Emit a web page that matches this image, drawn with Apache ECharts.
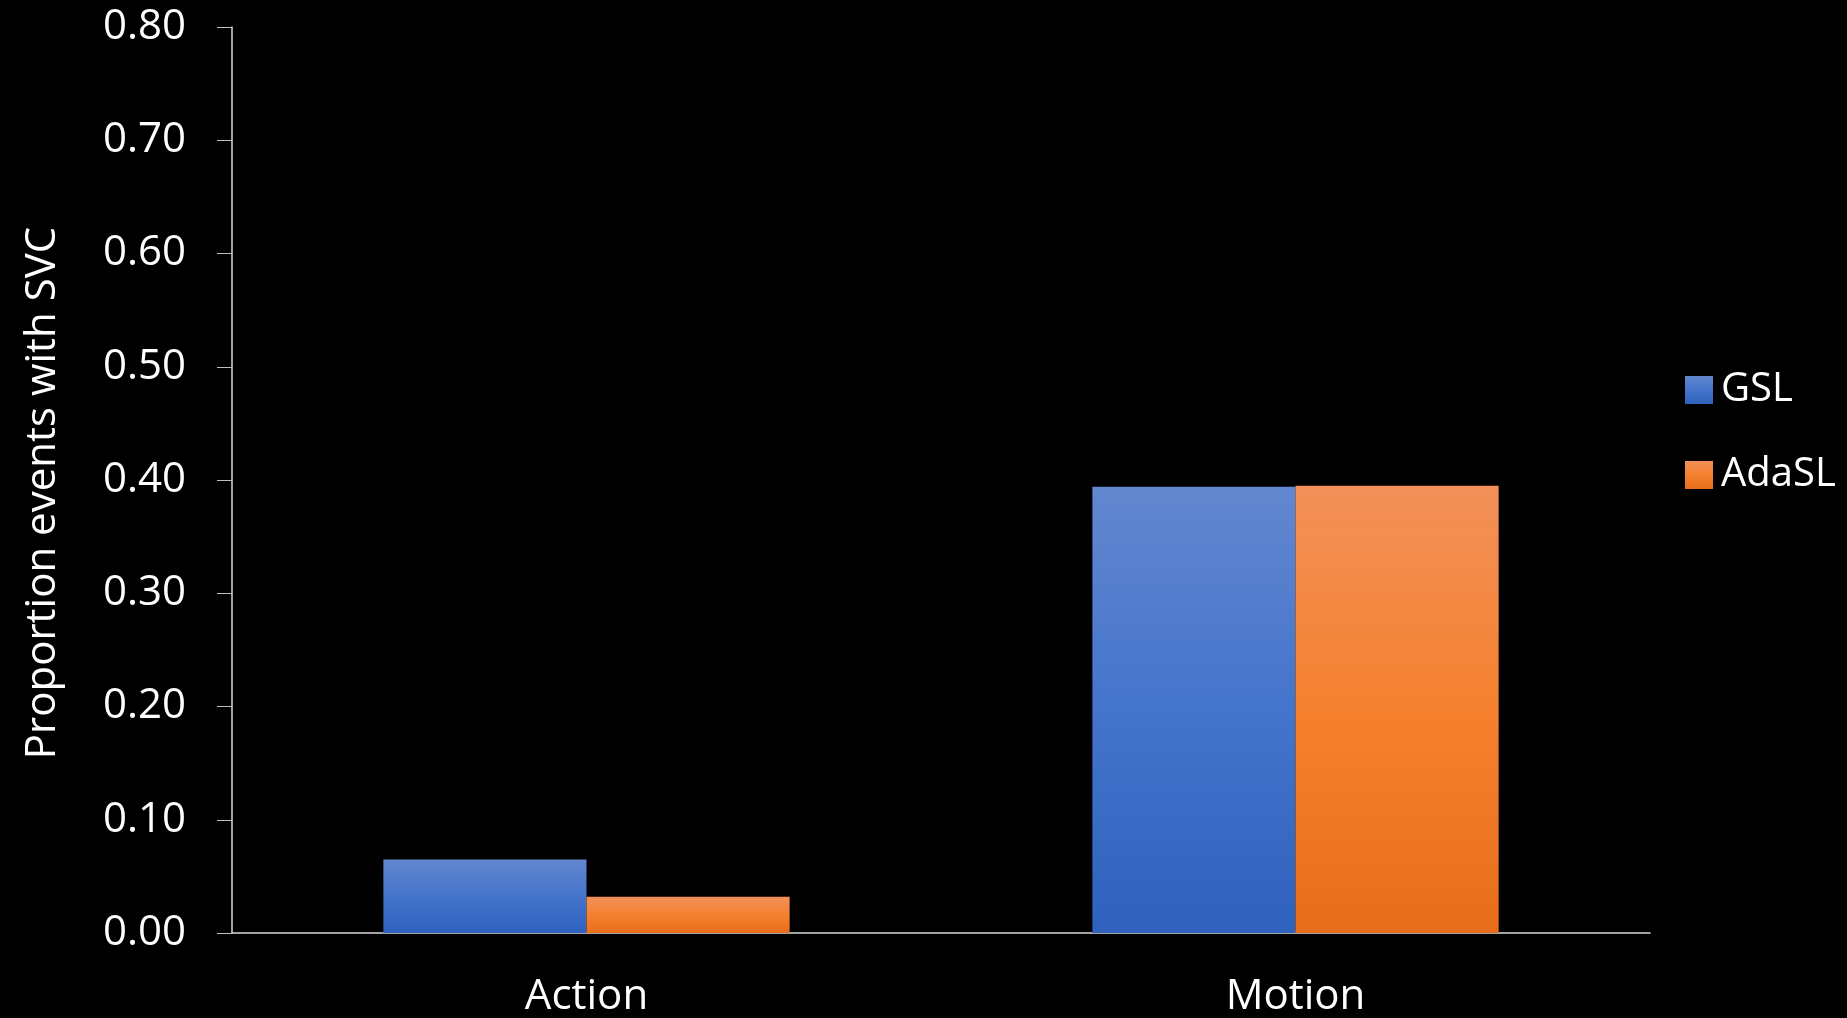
<!DOCTYPE html>
<html>
<head>
<meta charset="utf-8">
<script src="https://cdn.jsdelivr.net/npm/echarts@6/dist/echarts.min.js"></script>
<style>
	html, body { margin: 0; padding: 0; background: #000; }
	#chart { width: 1847px; height: 1018px; }
</style>
</head>
<body>
<div id="chart"></div>
<script>
const categories = ['Action', 'Motion']
const gslValues = [0.065, 0.394]
const adaslValues = [0.032, 0.395]
const yTicks = [0, 0.8, 0.1]

const font = '"Open Sans", "DejaVu Sans", sans-serif'

function grad(top, mid, bottom) {
	return new echarts.graphic.LinearGradient(0, 0, 0, 1, [
		{ offset: 0, color: top },
		{ offset: 0.5, color: mid },
		{ offset: 1, color: bottom }
	])
}

const chart = echarts.init(document.getElementById('chart'))
chart.setOption({
	backgroundColor: '#000',
	animation: false,
	grid: {
		left: 232,
		right: 197,
		top: 27,
		bottom: 84
	},
	legend: {
		orient: 'vertical',
		left: 1680,
		top: 365,
		itemWidth: 28,
		itemHeight: 28,
		itemGap: 45,
		icon: 'rect',
		textStyle: { color: '#fff', fontSize: 40, fontFamily: font, padding: [0, 0, 0, 3] },
		data: ['GSL', 'AdaSL']
	},
	xAxis: {
		type: 'category',
		data: categories,
		axisLine: { lineStyle: { color: '#d9d9d9', width: 1.5 } },
		axisTick: { length: 15, lineStyle: { color: '#d9d9d9' } },
		axisLabel: { color: '#fff', fontSize: 42, fontFamily: font, margin: 43 }
	},
	yAxis: {
		type: 'value',
		min: yTicks[0],
		max: yTicks[1],
		interval: yTicks[2],
		name: 'Proportion events with SVC',
		nameLocation: 'middle',
		nameGap: 168,
		// nudge the title a little down, as in the original
		nameTextStyle: { color: '#fff', fontSize: 42, fontFamily: font, padding: [0, 26, 0, 0] },
		axisLine: { show: true, lineStyle: { color: '#d9d9d9', width: 1.5 } },
		axisTick: { show: true, length: 15, lineStyle: { color: '#bfbfbf' } },
		splitLine: { show: false },
		axisLabel: {
			color: '#fff',
			fontSize: 42,
			fontFamily: font,
			margin: 46,
			formatter: v => v.toFixed(2)
		}
	},
	series: [
		{
			name: 'GSL',
			type: 'bar',
			barGap: '0%',
			barCategoryGap: '42.7%',
			itemStyle: { color: grad('#6387cf', '#4474cc', '#2f62bd') },
			data: gslValues
		},
		{
			name: 'AdaSL',
			type: 'bar',
			itemStyle: { color: grad('#f29059', '#f5812f', '#e86d1a') },
			data: adaslValues
		}
	]
})
</script>
</body>
</html>
